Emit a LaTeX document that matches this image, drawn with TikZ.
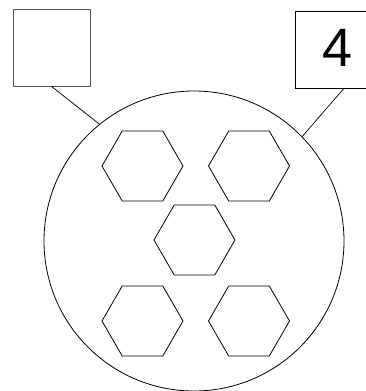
\documentclass[tikz,border=0pt]{standalone}
\usepackage{fontspec}
\setmainfont{Liberation Sans}
\usetikzlibrary{shapes.geometric}

\begin{document}
\begin{tikzpicture}[
      x=1pt, y=-1pt,
      box/.style={rectangle, draw, line width=0.8pt, minimum size=77pt, inner sep=0pt},
      hexa/.style={regular polygon, regular polygon sides=6, draw, line width=0.8pt,
                   minimum size=81pt, inner sep=0pt},
      link/.style={line width=0.7pt}
    ]
    \useasboundingbox (0,0) rectangle (366,391);

    \node[box, draw=black!65] (lbox) at (51.5,47.5) {};
    \node[box] (rbox) at (333.5,49.5) {};
    \node[font=\fontsize{54}{54}\selectfont, inner sep=0pt] (digit) at (338,47.5) {4};

    \node[circle, draw, line width=0.8pt, minimum size=300pt, inner sep=0pt] (cell) at (194,241) {};

    \node[hexa] (h1) at (142.5,166) {};
    \node[hexa] (h2) at (249,166) {};
    \node[hexa] (h3) at (194.5,240) {};
    \node[hexa] (h4) at (142.5,321) {};
    \node[hexa] (h5) at (249,321) {};

    \draw[link] (lbox.south) -- (cell.129);
    \draw[link] (rbox.-75) -- (cell.44);
  \end{tikzpicture}
\end{document}
